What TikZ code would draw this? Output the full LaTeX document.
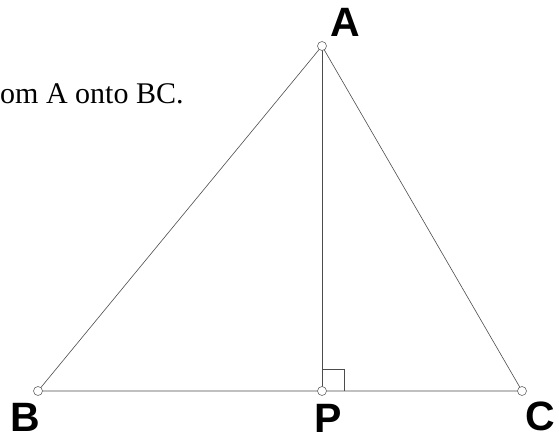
\documentclass[tikz,border=0pt]{standalone}
\usepackage{fontspec}
\setmainfont{Liberation Serif}
\newfontfamily\labelfont{Liberation Sans}
\usetikzlibrary{calc}
\tikzset{
    vertex/.style={
        circle, draw=black!60, fill=white,
        inner sep=0pt, minimum size=9pt, line width=0.6pt
    },
    ptlabel/.style={
        anchor=base west, inner sep=0pt,
        font=\labelfont\fontsize{41}{41}\selectfont\bfseries
    },
    side/.style={draw=black!70, line width=0.6pt},
    caption/.style={
        anchor=base west, inner sep=0pt,
        font=\fontsize{30}{30}\selectfont
    }
}
\begin{document}
\begin{tikzpicture}[x=1pt, y=-1pt]
    \useasboundingbox (0,0) rectangle (559,441);
    \coordinate (A) at (322,46);
    \coordinate (B) at (38,391);
    \coordinate (P) at (322,391);
    \coordinate (C) at (522,391);

    % triangle, altitude and right angle mark
    \draw[side] (A) -- (B) -- (C) -- cycle;
    \draw[side] (A) -- (P);
    \draw[side] ($(P)+(0,-22)$) -- ($(P)+(22,-22)$) -- ($(P)+(22,0)$);

    \node[vertex] (a) at (A) {};
    \node[vertex] (b) at (B) {};
    \node[vertex] (p) at (P) {};
    \node[vertex] (c) at (C) {};

    \node[ptlabel] (la) at (330,37) {A};
    \node[ptlabel] (lb) at (10,431) {B};
    \node[ptlabel] (lp) at (314,432) {P};
    \node[ptlabel] (lc) at (525,430) {C};

    \node[caption] (txt) at (0,103) {om A onto BC.};
\end{tikzpicture}
\end{document}
